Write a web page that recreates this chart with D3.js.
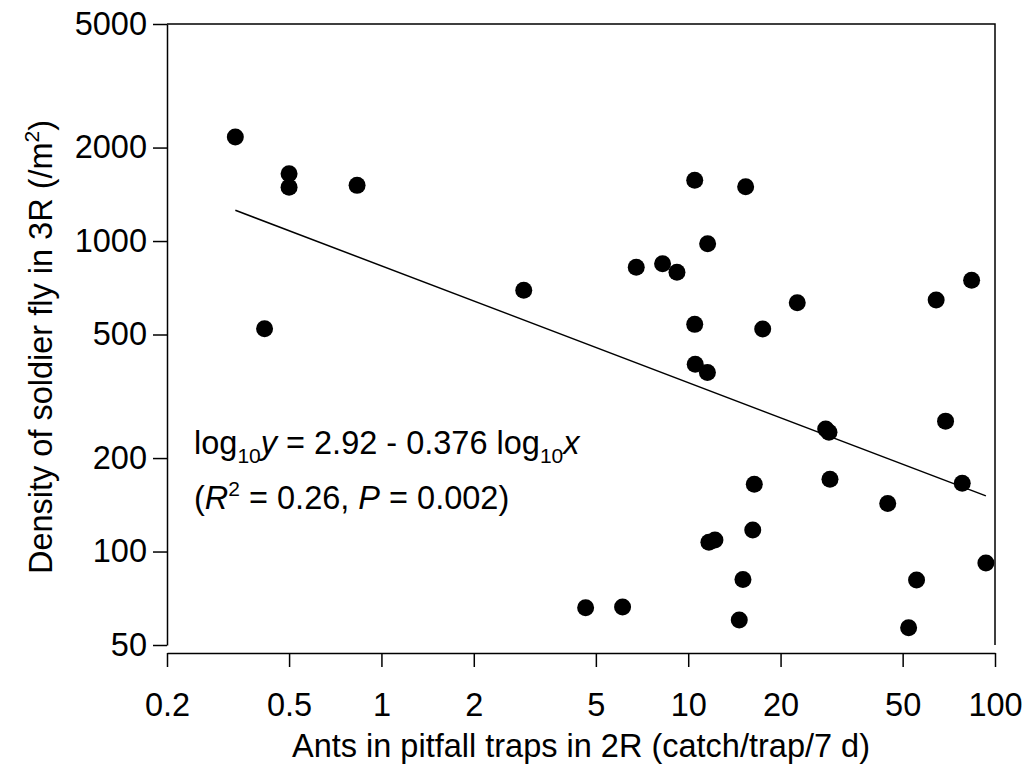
<!DOCTYPE html>
<html><head><meta charset="utf-8">
<script src="https://cdn.jsdelivr.net/npm/d3@7"></script>
<style>body{margin:0;background:#fff}</style>
</head><body>
<svg id="c" width="1026" height="771"></svg>
<script>
// Ants in pitfall traps in 2R (catch/trap/7 d)
const antsX = [0.334, 0.50, 0.50, 0.833, 0.416, 2.91, 4.63, 6.11, 6.77, 8.25, 9.19, 10.5,
  11.57, 15.39, 10.5, 10.54, 11.55, 17.49, 22.67, 11.68, 12.22, 15.08, 14.67, 16.42,
  16.23, 28.06, 28.76, 28.98, 44.7, 64.3, 69.0, 83.9, 78.2, 55.5, 52.3, 93.4];
// Density of soldier fly in 3R (/m2)
const flyY = [2163, 1648, 1490, 1511, 522, 694, 65.9, 66.3, 823, 845, 793, 1569,
  980, 1496, 539, 401, 377, 521, 633, 107.1, 109.0, 81.2, 60.2, 164.6,
  117.4, 248, 242, 170.8, 142.8, 646, 263, 747, 166, 81.0, 56.8, 91.9];
const xTicks = [0.2, 0.5, 1, 2, 5, 10, 20, 50, 100];
const yTicks = [50, 100, 200, 500, 1000, 2000, 5000];
const fitIntercept = 2.92, fitSlope = -0.376;

const svg = d3.select("#c");
const FONT = "'Liberation Sans', Arial, Helvetica, sans-serif";
const FS = 32.5, SUB = 21;
const L = 167, R = 995, T = 24, B = 645, XAXIS_Y = 653;
const x = d3.scaleLog().domain([0.2, 100]).range([L, R]);
const y = d3.scaleLog().domain([50, 5000]).range([B, T]);

// frame top and right
svg.append("path")
  .attr("d", `M${L},${T}H${R}V${B}`)
  .attr("fill", "none").attr("stroke", "#000").attr("stroke-width", 1.5);

const yAxis = svg.append("g")
  .attr("transform", `translate(${L},0)`)
  .call(d3.axisLeft(y).tickValues(yTicks).tickFormat(d => String(d))
    .tickSize(14).tickSizeOuter(0).tickPadding(6));
const xAxis = svg.append("g")
  .attr("transform", `translate(0,${XAXIS_Y})`)
  .call(d3.axisBottom(x).tickValues(xTicks).tickFormat(d => String(d))
    .tickSize(14).tickSizeOuter(0).tickPadding(26));
[yAxis, xAxis].forEach(g => {
  g.selectAll("path,line").attr("stroke", "#000").attr("stroke-width", 1.5);
  g.selectAll("text").attr("font-family", FONT).attr("font-size", FS).attr("fill", "#000");
});

// regression line over data extent
const [xmin, xmax] = d3.extent(antsX);
const fit = v => Math.pow(10, fitIntercept + fitSlope * Math.log10(v));
svg.append("line")
  .attr("x1", x(xmin)).attr("y1", y(fit(xmin)))
  .attr("x2", x(xmax)).attr("y2", y(fit(xmax)))
  .attr("stroke", "#000").attr("stroke-width", 1.5);

// points
svg.append("g").selectAll("circle").data(antsX.map((v, i) => [v, flyY[i]]))
  .join("circle")
  .attr("cx", d => x(d[0])).attr("cy", d => y(d[1])).attr("r", 8.5)
  .attr("fill", "#000");

// axis titles
svg.append("text")
  .attr("x", (L + R) / 2).attr("y", 757)
  .attr("text-anchor", "middle").attr("font-family", FONT).attr("font-size", FS)
  .text("Ants in pitfall traps in 2R (catch/trap/7 d)");

const yl = svg.append("text")
  .attr("transform", `translate(52,347) rotate(-90)`)
  .attr("text-anchor", "middle").attr("font-family", FONT).attr("font-size", FS);
yl.append("tspan").text("Density of soldier fly in 3R (/m");
yl.append("tspan").attr("font-size", SUB).attr("dy", -13).text("2");
yl.append("tspan").attr("dy", 13).text(")");

// equation
const eq1 = svg.append("text").attr("x", 194).attr("y", 454)
  .attr("font-family", FONT).attr("font-size", FS);
eq1.append("tspan").text("log");
eq1.append("tspan").attr("font-size", SUB).attr("dy", 9).text("10");
eq1.append("tspan").attr("font-style", "italic").attr("dy", -9).text("y");
eq1.append("tspan").text(" = 2.92 - 0.376 log");
eq1.append("tspan").attr("font-size", SUB).attr("dy", 9).text("10");
eq1.append("tspan").attr("font-style", "italic").attr("dy", -9).text("x");

const eq2 = svg.append("text").attr("x", 194).attr("y", 509)
  .attr("font-family", FONT).attr("font-size", FS);
eq2.append("tspan").text("(");
eq2.append("tspan").attr("font-style", "italic").text("R");
eq2.append("tspan").attr("font-size", SUB).attr("dy", -13).text("2");
eq2.append("tspan").attr("dy", 13).text(" = 0.26, ");
eq2.append("tspan").attr("font-style", "italic").text("P");
eq2.append("tspan").text(" = 0.002)");
</script>
</body></html>
